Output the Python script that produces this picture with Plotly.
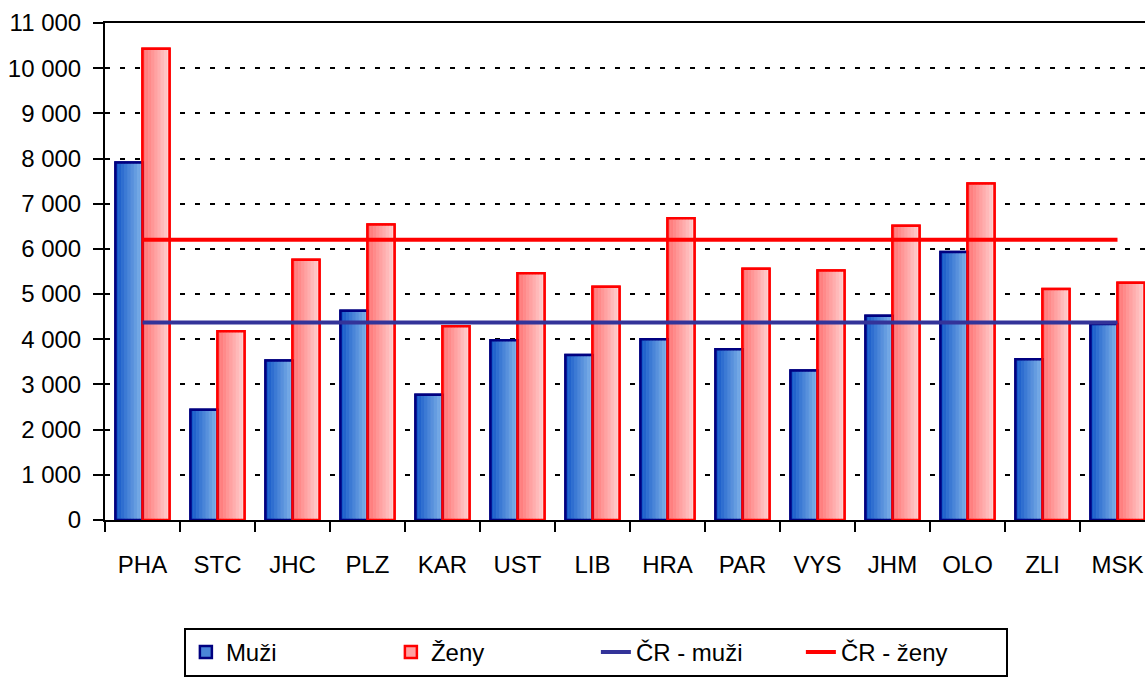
import plotly.graph_objects as go

categories = ["PHA", "STC", "JHC", "PLZ", "KAR", "UST", "LIB", "HRA", "PAR", "VYS", "JHM", "OLO", "ZLI", "MSK"]
muzi = [7910, 2440, 3530, 4630, 2770, 3980, 3650, 4000, 3780, 3310, 4520, 5930, 3560, 4340]
zeny = [10430, 4180, 5760, 6540, 4290, 5460, 5160, 6680, 5560, 5520, 6510, 7450, 5110, 5250]
cr_muzi = 4370
cr_zeny = 6200
y_ticks = [0, 1000, 2000, 3000, 4000, 5000, 6000, 7000, 8000, 9000, 10000, 11000]

FONT = "Liberation Sans, Arial, sans-serif"
FS = 24
BAR_W = 0.36
N_SLICES = 9

def lerp(c1, c2, t):
    return "rgb(%d,%d,%d)" % tuple(round(a + (b - a) * t) for a, b in zip(c1, c2))

blue_dark, blue_light = (20, 88, 200), (128, 178, 232)
red_dark, red_light = (255, 115, 115), (255, 208, 208)

fig = go.Figure()

fig.add_trace(go.Bar(x=categories, y=muzi, name="Muži", offset=-BAR_W, width=BAR_W,
                     marker=dict(color=lerp(blue_dark, blue_light, 0.5), line=dict(color="#000080", width=2.5))))
fig.add_trace(go.Bar(x=categories, y=zeny, name="Ženy", offset=0, width=BAR_W,
                     marker=dict(color=lerp(red_dark, red_light, 0.5), line=dict(color="#ff0000", width=2.5))))

sw = BAR_W / N_SLICES
for i in range(N_SLICES):
    t = i / (N_SLICES - 1)
    fig.add_trace(go.Bar(x=categories, y=muzi, offset=-BAR_W + i * sw, width=sw * 1.02, showlegend=False,
                         hoverinfo="skip", marker=dict(color=lerp(blue_dark, blue_light, t), line=dict(width=0))))
    fig.add_trace(go.Bar(x=categories, y=zeny, offset=i * sw, width=sw * 1.02, showlegend=False,
                         hoverinfo="skip", marker=dict(color=lerp(red_dark, red_light, t), line=dict(width=0))))

fig.add_trace(go.Bar(x=categories, y=muzi, offset=-BAR_W, width=BAR_W, showlegend=False, hoverinfo="skip",
                     marker=dict(color="rgba(0,0,0,0)", line=dict(color="#000080", width=2.5))))
fig.add_trace(go.Bar(x=categories, y=zeny, offset=0, width=BAR_W, showlegend=False, hoverinfo="skip",
                     marker=dict(color="rgba(0,0,0,0)", line=dict(color="#ff0000", width=2.5))))

fig.add_trace(go.Scatter(x=categories, y=[cr_muzi] * len(categories), mode="lines", name="ČR - muži",
                         line=dict(color="#333399", width=4)))
fig.add_trace(go.Scatter(x=categories, y=[cr_zeny] * len(categories), mode="lines", name="ČR - ženy",
                         line=dict(color="#ff0000", width=4)))

fig.update_layout(
    width=1145, height=677,
    margin=dict(l=105, r=0, t=23, b=157),
    paper_bgcolor="white", plot_bgcolor="white",
    barmode="overlay",
    separators=", ",
    font=dict(family=FONT, size=FS, color="black"),
    showlegend=True,
    legend=dict(orientation="h", x=0.472, xanchor="center", y=-0.217, yanchor="top",
                bordercolor="black", borderwidth=2, bgcolor="white",
                font=dict(family=FONT, size=FS), traceorder="normal", entrywidth=160),
)
fig.update_xaxes(type="category", categoryorder="array", categoryarray=categories,
                 range=[-0.5, len(categories) - 0.5 - 10 / 75], automargin=False,
                 showline=True, linecolor="black", linewidth=2, mirror=True,
                 ticks="outside", tickson="boundaries", ticklen=10, tickwidth=2, tickcolor="black",
                 ticklabelstandoff=22,
                 showgrid=False, tickfont=dict(family=FONT, size=FS))
fig.update_yaxes(range=[0, 11000], tickvals=y_ticks, tickformat=",d", automargin=False,
                 showline=True, linecolor="black", linewidth=2,
                 ticks="outside", ticklen=10, tickwidth=2, tickcolor="black",
                 ticklabelstandoff=7,
                 showgrid=True, gridcolor="black", gridwidth=2, griddash="5px,10px",
                 zeroline=False, tickfont=dict(family=FONT, size=FS))

fig.write_html("out.html", config={"displayModeBar": False},
               post_script="document.body.style.margin='0';document.body.style.overflow='hidden';")
